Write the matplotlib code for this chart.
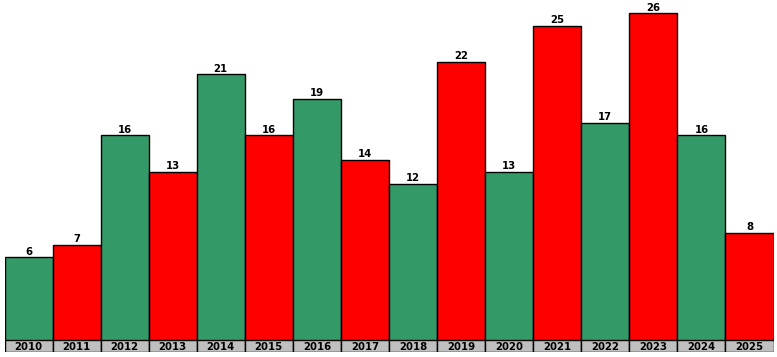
import numpy as np
import matplotlib
matplotlib.use("Agg")
import matplotlib.pyplot as plt

years = ["2010", "2011", "2012", "2013", "2014", "2015", "2016", "2017",
         "2018", "2019", "2020", "2021", "2022", "2023", "2024", "2025"]
values = [6, 7, 16, 13, 21, 16, 19, 14, 12, 22, 13, 25, 17, 26, 16, 8]
colors = ["#339966", "#ff0000"] * 8

W, H = 777, 357
fig = plt.figure(figsize=(W / 100, H / 100), dpi=100)
font = dict(family=["DejaVu Sans"], fontsize=7.3,
            fontweight="bold", color="black")

left = 4.5 / W
right = 773.5 / W
bar_bottom = (H - 340) / H
ax = fig.add_axes([left, bar_bottom, right - left, 1 - bar_bottom])

# y scale: ~12.2 px per unit, zero a few px above the strip
px = 12.2
zero_y = 330.5
base = (zero_y - 340) / px
top = zero_y / px
x = np.arange(len(years))
vals = np.array(values)
ax.bar(x, vals - base, bottom=base, width=1.0, color=colors,
       edgecolor="black", linewidth=1)
ax.set_xlim(-0.5, len(years) - 0.5)
ax.set_ylim(base, top)
for xi, v in zip(x, vals):
    ax.text(xi, v + 0.05, str(v), ha="center", va="bottom", **font)
ax.axis("off")

# year label strip
lab_top = (H - 340) / H
lab_bot = (H - 352) / H
ax2 = fig.add_axes([left, lab_bot, right - left, lab_top - lab_bot])
ax2.bar(x, [1] * len(x), width=1.0, color="#c0c0c0",
        edgecolor="black", linewidth=1)
ax2.set_xlim(-0.5, len(years) - 0.5)
ax2.set_ylim(0, 1)
for xi, y in zip(x, years):
    ax2.text(xi, 0.45, y, ha="center", va="center", **font)
ax2.axis("off")

fig.savefig("out.png", dpi=100)
